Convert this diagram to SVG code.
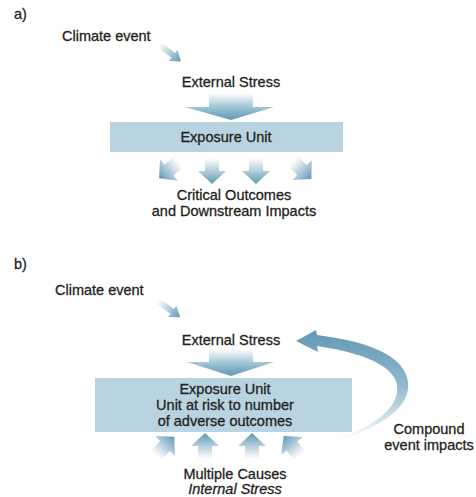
<svg xmlns="http://www.w3.org/2000/svg" width="476" height="497" viewBox="0 0 476 497">
<style>
text{font-family:"Liberation Sans",Arial,sans-serif;font-size:14.5px;fill:#231f20;stroke:#231f20;stroke-width:0.3px}
.c{text-anchor:middle}
.box{fill:#b9d4e0}
.arr{fill:url(#g)}
.big{fill:url(#gb)}
</style>
<defs>
<linearGradient id="g" x1="0" y1="0" x2="0" y2="1">
<stop offset="0" stop-color="#ffffff" stop-opacity="0.9"/>
<stop offset="1" stop-color="#5f97b4"/>
</linearGradient>
<linearGradient id="gb" x1="0" y1="0" x2="0" y2="1">
<stop offset="0" stop-color="#ffffff"/>
<stop offset="0.55" stop-color="#9cc2d4"/>
<stop offset="1" stop-color="#5f97b4"/>
</linearGradient>
<linearGradient id="gc" x1="0" y1="0" x2="0" y2="1">
<stop offset="0" stop-color="#6198b4"/>
<stop offset="0.5" stop-color="#8fb9cc"/>
<stop offset="1" stop-color="#ffffff"/>
</linearGradient>
<path id="sa" d="M-7,-13 H7 V0 H14 L0,13 L-14,0 H-7 Z"/>
<path id="ca" d="M-3,-14 H3 V4 H7 L0,14 L-7,4 H-3 Z"/>
</defs>

<g id="panel-a">
<text x="14" y="19">a)</text>
<g id="a-climate"><text x="62" y="41">Climate event</text></g>
<g id="a-external"><text class="c" x="231" y="87">External Stress</text></g>
<g id="a-exposure">
<rect class="box" x="110" y="122" width="233" height="30"/>
<text class="c" x="226" y="142">Exposure Unit</text>
</g>
<g id="a-outcomes">
<text class="c" x="234" y="200">Critical Outcomes</text>
<text class="c" x="234" y="216">and Downstream Impacts</text>
</g>
</g>

<g id="panel-b">
<text x="14" y="269">b)</text>
<g id="b-climate"><text x="55" y="295">Climate event</text></g>
<g id="b-external"><text class="c" x="231" y="345">External Stress</text></g>
<g id="b-exposure">
<rect class="box" x="95" y="378" width="257" height="54"/>
<text class="c" x="225" y="394">Exposure Unit</text>
<text class="c" x="225" y="410">Unit at risk to number</text>
<text class="c" x="225" y="426">of adverse outcomes</text>
</g>
<g id="b-causes">
<text class="c" x="235" y="479">Multiple Causes</text>
<text class="c" x="235" y="494" font-style="italic">Internal Stress</text>
</g>
<g id="b-compound">
<text class="c" x="429" y="434">Compound</text>
<text class="c" x="429" y="450">event impacts</text>
</g>
</g>

<g id="connectors">
<use href="#ca" class="arr" transform="translate(170,53) rotate(-52)"/>
<path class="big" d="M209,93 H253 V107 H274 L231,120 L185,107 H209 Z"/>
<use href="#sa" class="arr" transform="translate(169,170) rotate(50)"/>
<use href="#sa" class="arr" transform="translate(212,171)"/>
<use href="#sa" class="arr" transform="translate(256,171)"/>
<use href="#sa" class="arr" transform="translate(302,170) rotate(-46)"/>

<use href="#ca" class="arr" transform="translate(169,309) rotate(-54)"/>
<path class="big" d="M209,349 H253 V362 H274 L231,376 L187,362 H209 Z"/>
<use href="#sa" class="arr" transform="translate(165,446) rotate(-135)"/>
<use href="#sa" class="arr" transform="translate(205,446) rotate(180)"/>
<use href="#sa" class="arr" transform="translate(252,446) rotate(180)"/>
<use href="#sa" class="arr" transform="translate(292,446) rotate(140)"/>

<path fill="url(#gc)" d="M333,441 C390,426 414,402 407,377 C399,352 362,341 317,335 L316,330 L296,341 L318,352 L317,346 C356,352 388,362 396,381 C403,402 382,424 333,441 Z"/>
</g>
</svg>
